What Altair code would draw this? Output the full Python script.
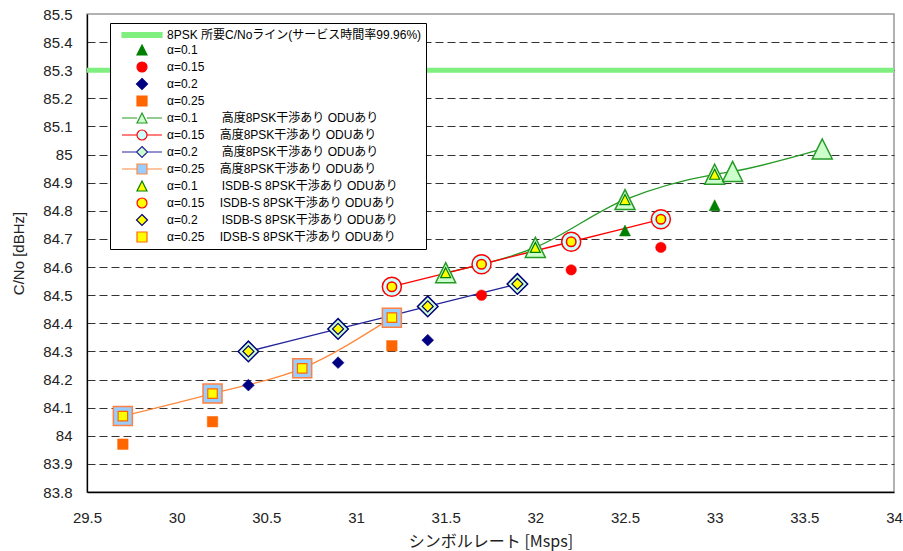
import altair as alt
import pandas as pd

# --- data: symbol rate [Msps] / C/No [dBHz] -------------------------------
req_cn = [85.3]

a01_x = [32.5, 33.0]
a01_y = [84.73, 84.82]
a015_x = [31.7, 32.2, 32.7]
a015_y = [84.50, 84.59, 84.67]
a02_x = [30.4, 30.9, 31.4]
a02_y = [84.18, 84.26, 84.34]
a025_x = [29.7, 30.2, 31.2]
a025_y = [83.97, 84.05, 84.32]

adv01_x = [31.5, 32.0, 32.5, 33.0, 33.1, 33.6]
adv01_y = [84.58, 84.67, 84.84, 84.93, 84.94, 85.02]
adv015_x = [31.2, 31.7, 32.2, 32.7]
adv015_y = [84.53, 84.61, 84.69, 84.77]
adv02_x = [30.4, 30.9, 31.4, 31.9]
adv02_y = [84.30, 84.38, 84.46, 84.54]
adv025_x = [29.7, 30.2, 30.7, 31.2]
adv025_y = [84.07, 84.15, 84.24, 84.42]

isdb01_x = [31.5, 32.0, 32.5, 33.0]
isdb01_y = [84.58, 84.67, 84.84, 84.93]
isdb015_x = [31.2, 31.7, 32.2, 32.7]
isdb015_y = [84.53, 84.61, 84.69, 84.77]
isdb02_x = [30.4, 30.9, 31.4, 31.9]
isdb02_y = [84.30, 84.38, 84.46, 84.54]
isdb025_x = [29.7, 30.2, 30.7, 31.2]
isdb025_y = [84.07, 84.15, 84.24, 84.42]

x_ticks = [29.5, 30, 30.5, 31, 31.5, 32, 32.5, 33, 33.5, 34]
y_ticks = [83.8, 83.9, 84.0, 84.1, 84.2, 84.3, 84.4, 84.5, 84.6, 84.7,
           84.8, 84.9, 85.0, 85.1, 85.2, 85.3, 85.4, 85.5]

W2 = "\u3000\u3000"
W1 = "\u3000\u00a0"
labels = [
    "8PSK 所要C/Noライン(サービス時間率99.96%)",
    "α=0.1",
    "α=0.15",
    "α=0.2",
    "α=0.25",
    "α=0.1" + W2 + "高度8PSK干渉あり ODUあり",
    "α=0.15" + W1 + "高度8PSK干渉あり ODUあり",
    "α=0.2" + W2 + "高度8PSK干渉あり ODUあり",
    "α=0.25" + W1 + "高度8PSK干渉あり ODUあり",
    "α=0.1" + W2 + "ISDB-S 8PSK干渉あり ODUあり",
    "α=0.15" + W1 + "ISDB-S 8PSK干渉あり ODUあり",
    "α=0.2" + W2 + "ISDB-S 8PSK干渉あり ODUあり",
    "α=0.25" + W1 + "IDSB-S 8PSK干渉あり ODUあり",
]

# --- colours ---------------------------------------------------------------
GREEN = "#008000"
LINE_GREEN = "#259A25"
RED = "#FF0000"
NAVY = "#000080"
LINE_BLUE = "#24249C"
ORANGE = "#FF6600"
LINE_ORANGE = "#FF8A3D"
SQ_EDGE = "#FF8040"
REQ_GREEN = "#7FF07F"
PALE_GREEN = "#CCFFCC"
PALE_CYAN = "#CCFFFF"
PALE_BLUE = "#99CCFF"
YELLOW = "#FFFF00"

TRI = "M0,-1L1,1L-1,1Z"

X = alt.X("x:Q", scale=alt.Scale(domain=[29.5, 34], nice=False, zero=False),
          axis=alt.Axis(values=x_ticks, format=".1~f", title="シンボルレート [Msps]",
                        labelFont="Liberation Sans", labelFontSize=15, labelColor="#222",
                        labelPadding=18, labelFlush=False, labelOverlap=False,
                        ticks=False, domainColor="black", domainWidth=1.3, grid=False,
                        titleFont="Noto Sans CJK JP", titleFontSize=16,
                        titleFontWeight="normal", titleColor="#222",
                        titleY=49, titleBaseline="middle"))
Y = alt.Y("y:Q", scale=alt.Scale(domain=[83.8, 85.5], nice=False, zero=False),
          axis=alt.Axis(values=y_ticks, format=".1~f", title="C/No [dBHz]",
                        labelFont="Liberation Sans", labelFontSize=15, labelColor="#222",
                        labelPadding=15, labelFlush=False, labelOverlap=False,
                        ticks=False, domainColor="black", domainWidth=1.3,
                        grid=True, gridColor="#333", gridDash=[8, 4], gridWidth=1,
                        gridOpacity={"condition": {"test": "datum.value > 85.45 || datum.value < 83.85",
                                                   "value": 0}, "value": 1},
                        titleFont="Liberation Sans", titleFontSize=15,
                        titleFontWeight="normal", titleColor="#222",
                        titleX=-69, titleY=239, titleAngle=270,
                        titleAlign="center", titleBaseline="middle"))


def frame(xs, ys):
    return pd.DataFrame({"x": xs, "y": ys})


def points(xs, ys, shape, size, fill, stroke, sw):
    return alt.Chart(frame(xs, ys)).mark_point(
        shape=shape, size=size, filled=True, fill=fill, stroke=stroke,
        strokeWidth=sw, opacity=1
    ).encode(x=X, y=Y)


def curve(xs, ys, color):
    return alt.Chart(frame(xs, ys)).mark_line(
        color=color, strokeWidth=1.3, interpolate="monotone"
    ).encode(x=X, y=Y)


required = alt.Chart(pd.DataFrame({"y": req_cn})).mark_rule(
    color=REQ_GREEN, strokeWidth=5
).encode(y=Y)

lines = [
    curve(adv01_x, adv01_y, LINE_GREEN),
    curve(adv015_x, adv015_y, RED),
    curve(adv02_x, adv02_y, LINE_BLUE),
    curve(adv025_x, adv025_y, LINE_ORANGE),
]

plain = [
    points(a01_x, a01_y, TRI, 121, GREEN, GREEN, 0.5),
    points(a015_x, a015_y, "circle", 110, RED, RED, 0.5),
    points(a02_x, a02_y, "diamond", 140, NAVY, NAVY, 0.5),
    points(a025_x, a025_y, "square", 110, ORANGE, ORANGE, 0.5),
]

advanced = [
    points(adv01_x, adv01_y, TRI, 400, PALE_GREEN, LINE_GREEN, 1.5),
    points(adv015_x, adv015_y, "circle", 361, PALE_CYAN, RED, 1.5),
    points(adv02_x, adv02_y, "diamond", 420, PALE_GREEN, NAVY, 1.5),
    points(adv025_x, adv025_y, "square", 361, PALE_BLUE, SQ_EDGE, 1.5),
]

isdb = [
    points(isdb01_x, isdb01_y, TRI, 100, YELLOW, GREEN, 1.2),
    points(isdb015_x, isdb015_y, "circle", 90, YELLOW, RED, 1.5),
    points(isdb02_x, isdb02_y, "diamond", 120, YELLOW, NAVY, 1.2),
    points(isdb025_x, isdb025_y, "square", 90, YELLOW, ORANGE, 1.2),
]

# --- legend symbols (unit = sqrt(symbolSize)/2 px) --------------------------
SYM = 196
U = (SYM ** 0.5) / 2


def u(px):
    return round(px / U, 3)


def p_tri(h):
    return f"M0,{-h}L{h},{h}L{-h},{h}Z"


def p_circle(r):
    return f"M{r},0A{r},{r} 0 1,1 {-r},0A{r},{r} 0 1,1 {r},0Z"


def p_diamond(h):
    return f"M0,{-h}L{h},0L0,{h}L{-h},0Z"


def p_square(h):
    return f"M{-h},{-h}L{h},{-h}L{h},{h}L{-h},{h}Z"


L = u(20)
m = u(5)


def with_line(marker, gap):
    return f"M{-L},0L{-gap},0M{gap},0L{L},0" + marker


t = u(2.4)
legend_shapes = [
    f"M{-L},{-t}L{L},{-t}L{L},{t}L{-L},{t}Z",
    p_tri(u(5)),
    p_circle(u(5)),
    p_diamond(u(5.5)),
    p_square(u(5)),
    with_line(p_tri(m), m),
    with_line(p_circle(m), m),
    with_line(p_diamond(u(5.5)), u(5.5)),
    with_line(p_square(m), m),
    p_tri(u(5)),
    p_circle(u(5)),
    p_diamond(u(5.5)),
    p_square(u(5)),
]
legend_fills = [REQ_GREEN, GREEN, RED, NAVY, ORANGE,
                PALE_GREEN, PALE_CYAN, PALE_GREEN, PALE_BLUE,
                YELLOW, YELLOW, YELLOW, YELLOW]
legend_strokes = [REQ_GREEN, GREEN, RED, NAVY, ORANGE,
                  LINE_GREEN, RED, LINE_BLUE, LINE_ORANGE,
                  GREEN, RED, NAVY, ORANGE]

leg = alt.Legend(
    title=None, orient="none", legendX=23, legendY=9,
    symbolSize=SYM, symbolStrokeWidth=1.2, symbolOpacity=1,
    symbolOffset=20, labelOffset=17, padding=4, rowPadding=1,
    labelFont="Liberation Sans, 'Noto Sans CJK JP'", labelFontSize=12,
    labelColor="black", labelLimit=400,
    fillColor="white", strokeColor="black",
)

legend_layer = alt.Chart(pd.DataFrame({"series": labels})).mark_point(
    filled=True, opacity=0
).encode(
    fill=alt.Fill("series:N", scale=alt.Scale(domain=labels, range=legend_fills), legend=leg),
    stroke=alt.Stroke("series:N", scale=alt.Scale(domain=labels, range=legend_strokes), legend=leg),
    shape=alt.Shape("series:N", scale=alt.Scale(domain=labels, range=legend_shapes), legend=leg),
)

chart = alt.layer(
    required, *lines, *plain, *advanced, *isdb, legend_layer
).properties(
    width=807, height=478,
    autosize=alt.AutoSizeParams(type="none"),
    padding={"left": 87, "top": 14, "right": 9, "bottom": 59},
    background="white",
).configure_view(
    stroke="#999999", strokeWidth=1.5
)

chart.save("out.html", embed_options={"renderer": "svg", "actions": False})
